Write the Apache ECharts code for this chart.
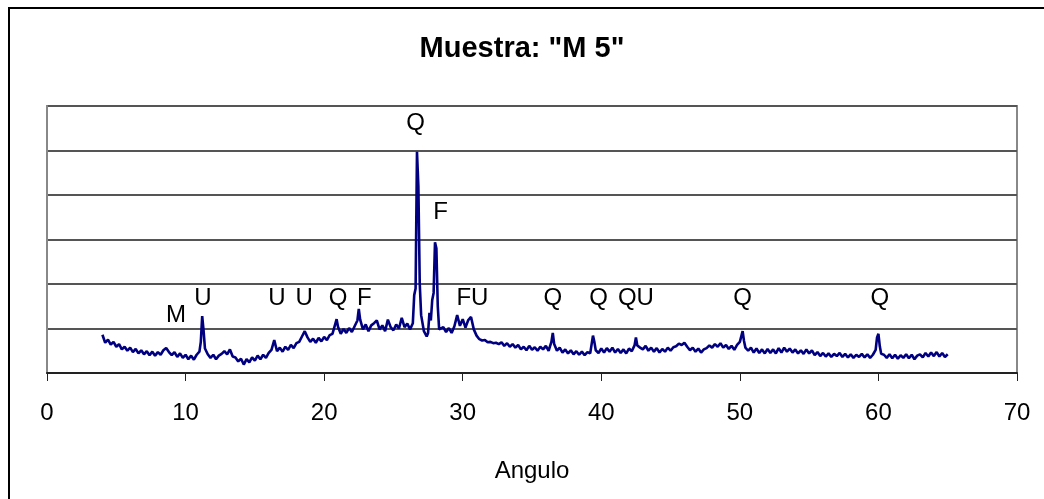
<!DOCTYPE html>
<html>
<head>
<meta charset="utf-8">
<script src="https://cdn.jsdelivr.net/npm/echarts@6/dist/echarts.min.js"></script>
<style>
html,body{margin:0;padding:0;background:#fff;}
#chart{width:1044px;height:499px;}
</style>
</head>
<body>
<div id="chart"></div>
<script>
// ---- Data ----
var titleText = 'Muestra: "M 5"';
var xAxisName = 'Angulo';
var xTicks = [0, 10, 20, 30, 40, 50, 60, 70];

var angles = [
 4.0,4.2,4.4,4.6,4.8,5.0,5.2,5.4,5.6,5.8,6.0,6.2,6.4,6.6,6.8,7.0,7.2,7.4,7.6,7.8,
 8.0,8.2,8.4,8.6,8.8,9.0,9.2,9.4,9.6,9.8,10.0,10.2,10.4,10.6,10.8,11.0,11.1,11.2,11.3,11.4,
 11.6,11.8,12.0,12.2,12.4,12.6,12.8,13.0,13.2,13.4,13.6,13.8,14.0,14.2,14.4,14.6,14.8,15.0,15.2,15.4,
 15.6,15.8,16.0,16.2,16.4,16.6,16.8,17.0,17.2,17.4,17.6,17.8,18.0,18.2,18.4,18.6,18.8,19.0,19.2,19.4,
 19.6,19.8,20.0,20.2,20.4,20.6,20.8,20.9,21.0,21.2,21.4,21.6,21.8,22.0,22.2,22.4,22.5,22.6,22.8,23.0,
 23.2,23.4,23.6,23.8,24.0,24.2,24.4,24.6,24.8,25.0,25.2,25.4,25.6,25.8,26.0,26.2,26.4,26.5,26.6,26.7,
 26.8,26.9,27.0,27.2,27.4,27.5,27.6,27.7,27.8,27.9,28.0,28.1,28.2,28.3,28.4,28.6,28.8,29.0,29.2,29.4,
 29.6,29.8,30.0,30.2,30.4,30.6,30.8,31.0,31.2,31.4,31.6,31.8,32.0,32.2,32.4,32.6,32.8,33.0,33.2,33.4,
 33.6,33.8,34.0,34.2,34.4,34.6,34.8,35.0,35.2,35.4,35.6,35.8,36.0,36.2,36.4,36.5,36.6,36.8,37.0,37.2,
 37.4,37.6,37.8,38.0,38.2,38.4,38.6,38.8,39.0,39.2,39.4,39.5,39.6,39.8,40.0,40.2,40.4,40.6,40.8,41.0,
 41.2,41.4,41.6,41.8,42.0,42.2,42.4,42.5,42.6,42.8,43.0,43.2,43.4,43.6,43.8,44.0,44.2,44.4,44.6,44.8,
 45.0,45.2,45.4,45.6,45.8,46.0,46.2,46.4,46.6,46.8,47.0,47.2,47.4,47.6,47.8,48.0,48.2,48.4,48.6,48.8,
 49.0,49.2,49.4,49.6,49.8,50.0,50.2,50.3,50.4,50.6,50.8,51.0,51.2,51.4,51.6,51.8,52.0,52.2,52.4,52.6,
 52.8,53.0,53.2,53.4,53.6,53.8,54.0,54.2,54.4,54.6,54.8,55.0,55.2,55.4,55.6,55.8,56.0,56.2,56.4,56.6,
 56.8,57.0,57.2,57.4,57.6,57.8,58.0,58.2,58.4,58.6,58.8,59.0,59.2,59.4,59.6,59.8,59.9,60.0,60.1,60.2,
 60.4,60.6,60.8,61.0,61.2,61.4,61.6,61.8,62.0,62.2,62.4,62.6,62.8,63.0,63.2,63.4,63.6,63.8,64.0,64.2,
 64.4,64.6,64.8,65.0
];

var counts = [
 86,68,75,64,70,59,65,53,59,50,57,47,54,44,51,42,49,40,48,39,
 47,41,51,56,47,40,47,36,44,34,41,31,39,30,41,48,70,128,95,55,
 42,34,41,31,39,43,49,42,53,37,35,26,32,19,31,24,35,28,39,31,
 41,34,45,52,74,49,57,48,59,52,63,56,67,70,82,94,80,70,77,68,
 79,71,81,74,85,88,110,121,104,88,99,90,101,92,105,118,144,120,98,109,
 94,107,112,118,98,107,94,120,103,96,109,100,124,103,111,98,112,175,190,497,
 420,200,130,94,82,90,135,118,164,180,294,280,150,98,95,103,92,101,90,105,
 130,106,121,102,119,126,98,84,76,73,74,69,70,67,68,65,69,61,67,59,
 65,57,63,53,59,51,61,52,58,50,59,53,61,50,70,90,65,50,57,46,
 53,44,51,42,49,41,48,40,47,44,84,70,51,45,55,46,56,48,57,46,
 54,45,53,44,55,49,62,80,62,57,53,61,50,57,48,56,46,54,48,57,
 50,58,60,66,63,68,59,51,57,48,55,46,53,56,62,57,65,59,67,57,
 63,54,61,52,63,70,94,72,57,50,57,46,55,45,53,44,54,45,53,44,
 56,46,57,48,55,46,53,44,51,43,53,44,51,40,47,38,45,37,44,36,
 43,38,45,36,43,35,42,34,41,36,43,35,42,34,41,52,80,88,60,43,
 41,34,42,33,41,32,40,34,42,33,41,31,39,42,35,45,37,46,38,47,
 37,45,36,42
];

// phase annotations (mineral letters)
var peakTexts   = ['M', 'U', 'U', 'U', 'Q', 'F', 'Q', 'F', 'FU', 'Q', 'Q', 'QU', 'Q', 'Q'];
var peakAngles  = [9.3, 11.25, 16.6, 18.55, 21.0, 22.9, 26.6, 28.4, 30.7, 36.5, 39.8, 42.5, 50.2, 60.1];
var peakHeights = [130, 168, 168, 168, 168, 168, 562, 360, 168, 168, 168, 168, 168, 168];

// ---- Build chart ----
var lineData = angles.map(function (a, i) { return [a, counts[i]]; });
var annData = peakAngles.map(function (a, i) { return { value: [a, peakHeights[i]], name: peakTexts[i] }; });

var chart = echarts.init(document.getElementById('chart'), null, { renderer: 'canvas' });
var FONT = '"Liberation Sans", Arial, sans-serif';

chart.setOption({
  animation: false,
  backgroundColor: '#ffffff',
  title: {
    text: titleText,
    left: 'center',
    top: 29,
    textStyle: { fontFamily: FONT, fontSize: 29, fontWeight: 'bold', color: '#000' }
  },
  graphic: [{
    type: 'rect',
    shape: { x: 9, y: 8, width: 1060, height: 520 },
    style: { fill: 'none', stroke: '#000', lineWidth: 2 },
    silent: true,
    z: 0
  }],
  grid: {
    left: 47, right: 27, top: 106, bottom: 126,
    show: true, borderColor: '#888', borderWidth: 2, backgroundColor: 'transparent'
  },
  xAxis: {
    type: 'value',
    min: 0, max: 70, interval: 10,
    name: xAxisName,
    nameLocation: 'middle',
    nameGap: 86,
    nameTextStyle: { fontFamily: FONT, fontSize: 24, color: '#000' },
    axisLine: { show: true, onZero: false, lineStyle: { color: '#222', width: 2 } },
    axisTick: { show: true, length: 8, inside: false, lineStyle: { color: '#222', width: 1 } },
    axisLabel: {
      fontFamily: FONT, fontSize: 24, color: '#000', margin: 28,
      formatter: function (v) { return xTicks.indexOf(v) >= 0 ? String(v) : ''; }
    },
    splitLine: { show: false }
  },
  yAxis: {
    type: 'value',
    min: 0, max: 600, interval: 100,
    axisLine: { show: true, lineStyle: { color: '#888', width: 2 } },
    axisTick: { show: false },
    axisLabel: { show: false },
    splitLine: { show: true, lineStyle: { color: '#555', width: 2 } }
  },
  series: [{
    type: 'line',
    data: lineData,
    showSymbol: false,
    symbol: 'none',
    smooth: false,
    lineStyle: { color: '#000080', width: 2.6 },
    z: 3
  }, {
    type: 'scatter',
    data: annData,
    symbolSize: 0,
    itemStyle: { opacity: 1, color: 'rgba(0,0,0,0)' },
    z: 4,
    label: {
      show: true,
      position: 'inside',
      fontFamily: FONT,
      fontSize: 24,
      color: '#000000',
      opacity: 1,
      formatter: function (p) { return p.name; }
    }
  }]
});
</script>
</body>
</html>
